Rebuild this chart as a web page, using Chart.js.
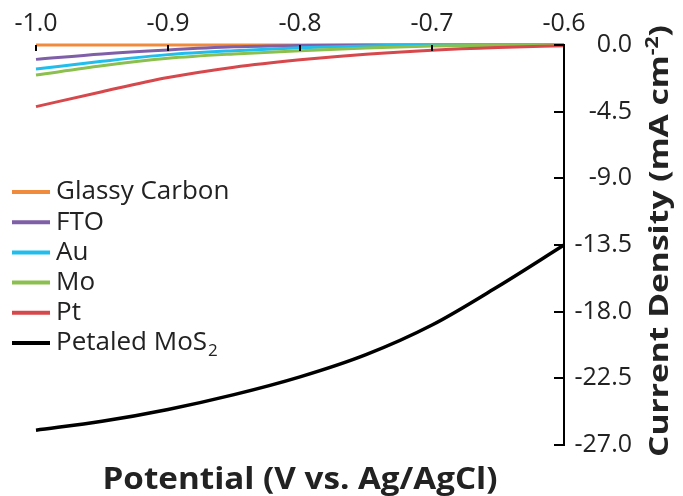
<!DOCTYPE html>
<html>
<head>
<meta charset="utf-8">
<script src="https://cdn.jsdelivr.net/npm/chart.js@4.4.1/dist/chart.umd.min.js"></script>
<style>
    html, body { margin: 0; padding: 0; background: #fff; }
    #wrap { width: 683px; height: 496px; position: relative; }
</style>
</head>
<body>
<div id="wrap"><canvas id="chartLSV"></canvas></div>
<script>
const potencial = [-1.0, -0.95, -0.9, -0.85, -0.8, -0.75, -0.7, -0.65, -0.6];
const glassyCarbon = [0, 0, 0, 0, 0, 0, 0, 0, 0];
const fto = [-0.97, -0.6, -0.33, -0.12, -0.03, 0, 0, 0, 0];
const au = [-1.62, -1.1, -0.65, -0.38, -0.18, -0.06, 0, 0, 0];
const mo = [-2.03, -1.4, -0.9, -0.6, -0.38, -0.2, -0.07, -0.01, 0];
const pt = [-4.16, -3.15, -2.2, -1.5, -1.0, -0.62, -0.35, -0.17, -0.05];
const mos2 = [-26.0, -25.4, -24.6, -23.6, -22.4, -20.9, -18.9, -16.3, -13.5];

const xTicks = [-1.0, -0.9, -0.8, -0.7, -0.6];
const yTicks = [0, -4.5, -9.0, -13.5, -18.0, -22.5, -27.0];

const FONT = '"Open Sans", "Noto Sans", sans-serif';
const TEXT_COLOR = '#222';

function serie(label, valores, color, ancho) {
    return {
        label: label,
        data: potencial.map((x, i) => ({ x: x, y: valores[i] })),
        borderColor: color,
        backgroundColor: color,
        borderWidth: ancho,
        pointRadius: 0,
        cubicInterpolationMode: 'monotone',
        clip: false,
        fill: false
    };
}

const datasets = [
    serie('Glassy Carbon', glassyCarbon, '#f08a3c', 3),
    serie('FTO', fto, '#7f5fa8', 3),
    serie('Au', au, '#21bdec', 3),
    serie('Mo', mo, '#8cc04e', 3),
    serie('Pt', pt, '#d6484b', 3),
    serie('Petaled MoS2', mos2, '#000000', 3.5)
];
// dibujar MoS2 debajo, glassy carbon arriba
datasets.reverse();

const extrasPlugin = {
    id: 'extras',
    afterDatasetsDraw(chart) {
        const ctx = chart.ctx;
        const xs = chart.scales.x;
        const ys = chart.scales.y;
        const area = chart.chartArea;
        ctx.save();

        // ticks hacia adentro
        ctx.strokeStyle = '#000';
        ctx.lineWidth = 2;
        xTicks.forEach(v => {
            const px = Math.round(xs.getPixelForValue(v));
            ctx.beginPath();
            ctx.moveTo(px, area.top);
            ctx.lineTo(px, area.top + 6);
            ctx.stroke();
        });
        yTicks.forEach(v => {
            const py = Math.round(ys.getPixelForValue(v));
            ctx.beginPath();
            ctx.moveTo(area.right, py);
            ctx.lineTo(area.right - 10, py);
            ctx.stroke();
        });

        // leyenda
        const leyenda = chart.data.datasets.slice().reverse();
        ctx.textBaseline = 'middle';
        ctx.fillStyle = TEXT_COLOR;
        leyenda.forEach((ds, i) => {
            const y = 192 + i * 30.2;
            ctx.strokeStyle = ds.borderColor;
            ctx.lineWidth = 4;
            ctx.beginPath();
            ctx.moveTo(12, y);
            ctx.lineTo(50, y);
            ctx.stroke();
            ctx.font = '26px ' + FONT;
            if (ds.label === 'Petaled MoS2') {
                const base = 'Petaled MoS';
                ctx.fillText(base, 56, y);
                const w = ctx.measureText(base).width;
                ctx.font = '17px ' + FONT;
                ctx.fillText('2', 56 + w + 1, y + 8);
            } else {
                ctx.fillText(ds.label, 56, y);
            }
        });

        // titulo eje x
        ctx.font = 'bold 30px ' + FONT;
        ctx.textBaseline = 'alphabetic';
        ctx.textAlign = 'center';
        const tx = 'Potential (V vs. Ag/AgCl)';
        const sx = 395 / ctx.measureText(tx).width;
        ctx.save();
        ctx.translate(300, 489);
        ctx.scale(sx, 1);
        ctx.fillText(tx, 0, 0);
        ctx.restore();

        // titulo eje y (rotado)
        ctx.translate(668, 241);
        ctx.rotate(-Math.PI / 2);
        ctx.textAlign = 'left';
        const t1 = 'Current Density (mA cm';
        const t2 = '-2';
        const t3 = ')';
        ctx.font = 'bold 27px ' + FONT;
        const w1 = ctx.measureText(t1).width;
        const w3 = ctx.measureText(t3).width;
        ctx.font = 'bold 17px ' + FONT;
        const w2 = ctx.measureText(t2).width;
        const total = w1 + w2 + w3;
        ctx.scale(432 / total, 1);
        const x0 = -total / 2;
        ctx.font = 'bold 27px ' + FONT;
        ctx.fillText(t1, x0, 0);
        ctx.font = 'bold 17px ' + FONT;
        ctx.fillText(t2, x0 + w1, -10);
        ctx.font = 'bold 27px ' + FONT;
        ctx.fillText(t3, x0 + w1 + w2, 0);

        ctx.restore();
    }
};

const chartLSV = new Chart(
    document.getElementById('chartLSV').getContext('2d'),
    {
        type: 'line',
        data: { datasets: datasets },
        options: {
            responsive: true,
            maintainAspectRatio: false,
            animation: false,
            layout: {
                padding: { left: 36, right: 51, top: 0, bottom: 51 }
            },
            plugins: {
                legend: { display: false },
                tooltip: { enabled: false }
            },
            scales: {
                x: {
                    type: 'linear',
                    position: 'top',
                    min: -1.0,
                    max: -0.6,
                    afterFit: (scale) => { scale.height = 45; },
                    afterBuildTicks: (scale) => {
                        scale.ticks = xTicks.map(v => ({ value: v }));
                    },
                    grid: { display: false, drawTicks: false },
                    border: { display: false },
                    ticks: {
                        color: TEXT_COLOR,
                        padding: 6,
                        maxRotation: 0,
                        font: { family: FONT, size: 25 },
                        callback: (v) => v.toFixed(1)
                    }
                },
                y: {
                    type: 'linear',
                    position: 'right',
                    min: -27,
                    max: 0,
                    afterFit: (scale) => { scale.width = 68; },
                    afterBuildTicks: (scale) => {
                        scale.ticks = yTicks.map(v => ({ value: v }));
                    },
                    grid: { display: false, drawTicks: false },
                    border: { display: true, color: '#000', width: 2 },
                    ticks: {
                        color: TEXT_COLOR,
                        padding: 10,
                        crossAlign: 'far',
                        font: { family: FONT, size: 25 },
                        callback: (v) => v.toFixed(1)
                    }
                }
            }
        },
        plugins: [extrasPlugin]
    }
);
</script>
</body>
</html>
